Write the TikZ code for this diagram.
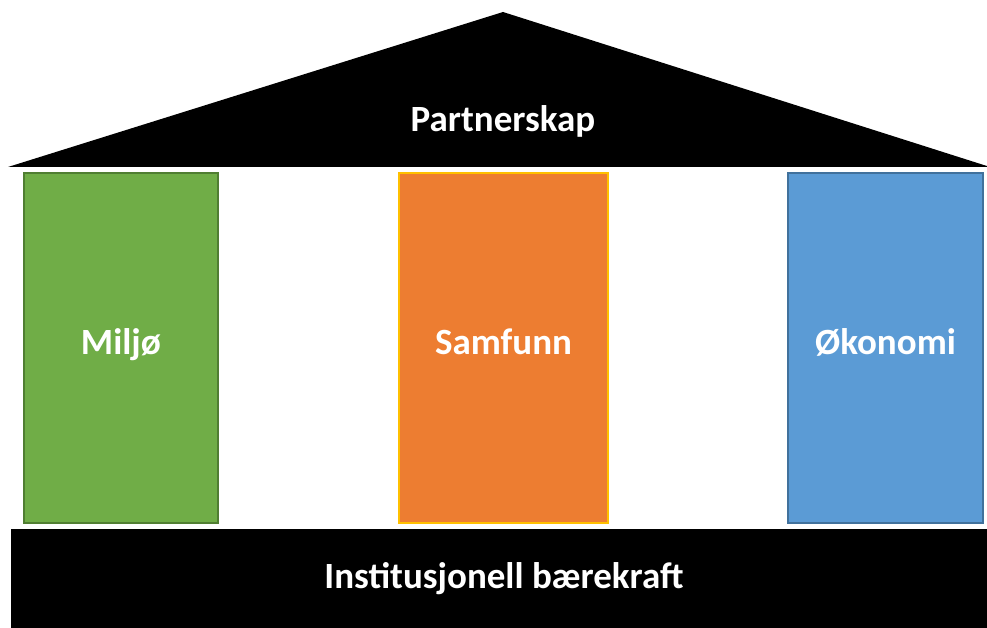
\documentclass[tikz,border=0pt]{standalone}
\usepackage{fontspec}
\setmainfont{Carlito}
\definecolor{grn}{HTML}{70AD47}
\definecolor{grnb}{HTML}{507E32}
\definecolor{org}{HTML}{ED7D31}
\definecolor{orgb}{HTML}{FFC000}
\definecolor{blu}{HTML}{5B9BD5}
\definecolor{blub}{HTML}{41719C}
\begin{document}
\begin{tikzpicture}[x=1pt,y=-1pt,
  lbl/.style={text=white,font=\fontsize{37}{40}\selectfont\bfseries,anchor=base,inner sep=0pt},
  pillar/.style={line width=1.8pt}]
\useasboundingbox (0,0) rectangle (987,628);
% roof
\fill[black] (8,167) -- (503,12) -- (990,167) -- cycle;
% base
\fill[black] (11,529) rectangle (990,630);
% pillars
\draw[pillar,fill=grn,draw=grnb] (24,173) rectangle (218,523);
\draw[pillar,fill=org,draw=orgb] (399,173) rectangle (608,523);
\draw[pillar,fill=blu,draw=blub] (788,173) rectangle (983,523);
% labels
\node[lbl] (roof) at (503,132) {Partnerskap};
\node[lbl] (milj) at (121,354) {Miljø};
\node[lbl] (samf) at (503.5,354) {Samfunn};
\node[lbl] (okon) at (885.5,354) {Økonomi};
\node[lbl] (inst) at (504,588) {Institusjonell bærekraft};
\end{tikzpicture}
\end{document}
